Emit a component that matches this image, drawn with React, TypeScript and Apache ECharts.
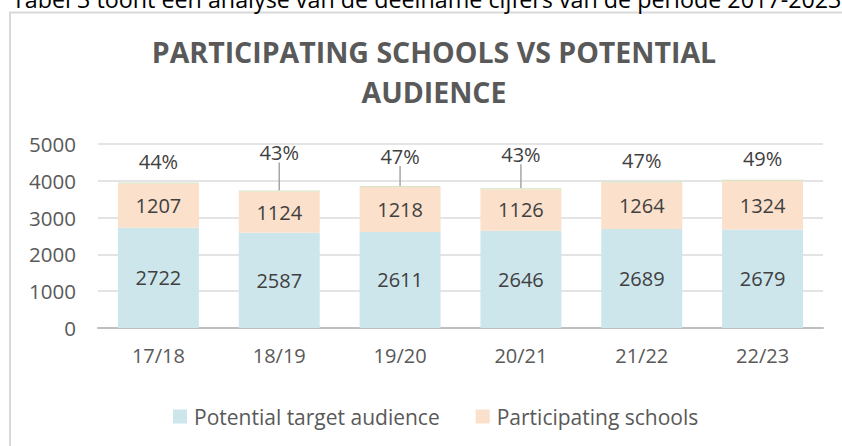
import React, { useEffect, useRef } from "react";
import * as echarts from "echarts";

const categories = ["17/18", "18/19", "19/20", "20/21", "21/22", "22/23"];
const potentialAudience = [2722, 2587, 2611, 2646, 2689, 2679];
const participatingSchools = [1207, 1124, 1218, 1126, 1264, 1324];
const participationPct = [44, 43, 47, 43, 47, 49];
const yTicks = { min: 0, max: 5000, interval: 1000 };

const FONT = "'Open Sans', sans-serif";

export default function App() {
  const ref = useRef<HTMLDivElement>(null);
  useEffect(() => {
    if (!ref.current) return;
    const chart = echarts.init(ref.current, undefined, { renderer: "svg" });
    const pctLabelShift = [0, -17, -9, -13, 0, 0];
    const pctLeader = [false, true, true, true, false, false];
    chart.setOption({
      animation: false,
      backgroundColor: "#ffffff",
      textStyle: { fontFamily: FONT },
      title: {
        text: "PARTICIPATING SCHOOLS VS POTENTIAL\nAUDIENCE",
        left: 429,
        textAlign: "center",
        top: 27,
        textStyle: {
          fontFamily: FONT,
          fontSize: 28.5,
          fontWeight: "bold",
          color: "#595959",
          lineHeight: 40,
        },
      },
      graphic: [
        {
          type: "rect",
          shape: { x: 10, y: 12.5, width: 900, height: 500 },
          style: { fill: "none", stroke: "#d9d9d9", lineWidth: 2 },
          silent: true,
        },
        {
          type: "text",
          x: 12,
          y: 10,
          style: {
            text: "Tabel 3 toont een analyse van de deelname cijfers van de periode 2017-2023",
            font: "23.3px " + FONT,
            fill: "#000000",
            textVerticalAlign: "bottom",
          },
        },
      ],
      legend: {
        left: 168,
        top: 401,
        itemWidth: 14,
        itemHeight: 14,
        itemGap: 36,
        icon: "rect",
        data: ["Potential target audience", "Participating schools"],
        textStyle: { fontFamily: FONT, fontSize: 21, color: "#595959", padding: [0, 0, 0, 2] },
      },
      grid: { left: 98, right: 19, top: 144, bottom: 118 },
      xAxis: {
        type: "category",
        data: categories,
        axisLine: { lineStyle: { color: "#bfbfbf", width: 2 } },
        axisTick: { show: false },
        axisLabel: { fontFamily: FONT, fontSize: 20, color: "#595959", margin: 17 },
      },
      yAxis: {
        type: "value",
        min: yTicks.min,
        max: yTicks.max,
        interval: yTicks.interval,
        axisLine: { show: false },
        axisTick: { show: false },
        splitLine: { lineStyle: { color: "#e4e4e4", width: 2 } },
        axisLabel: {
          fontFamily: FONT,
          fontSize: 20.5,
          color: "#595959",
          margin: 22,
          formatter: (v: number) => String(v),
        },
      },
      series: [
        {
          name: "Potential target audience",
          type: "bar",
          stack: "total",
          barWidth: "67%",
          data: potentialAudience,
          itemStyle: { color: "#cde6ec" },
          label: {
            show: true,
            position: "inside",
            fontFamily: FONT,
            fontSize: 20,
            color: "#404040",
          },
        },
        {
          name: "Participating schools",
          type: "bar",
          stack: "total",
          data: participatingSchools,
          itemStyle: { color: "#fbe0cb" },
          label: {
            show: true,
            position: "inside",
            fontFamily: FONT,
            fontSize: 20,
            color: "#404040",
          },
        },
        {
          name: "Percentage",
          type: "bar",
          stack: "total",
          barMinHeight: 1,
          itemStyle: { color: "#d3e6c3" },
          data: participationPct.map((p, i) => ({
            value: p / 100,
            labelLine: { show: pctLeader[i] },
          })),
          label: {
            show: true,
            position: "top",
            distance: 5,
            fontFamily: FONT,
            fontSize: 20,
            color: "#404040",
            padding: [0, 0, 6, 0],
            formatter: (p: any) => participationPct[p.dataIndex] + "%",
          },
          labelLayout: (params: any) => ({ dy: pctLabelShift[params.dataIndex] }),
          labelLine: { show: false, lineStyle: { color: "#a6a6a6", width: 1.5 } },
        },
      ],
    });
    return () => chart.dispose();
  }, []);
  return (
    <div
      ref={ref}
      style={{ position: "fixed", left: 0, top: 0, width: 842, height: 446 }}
    />
  );
}
